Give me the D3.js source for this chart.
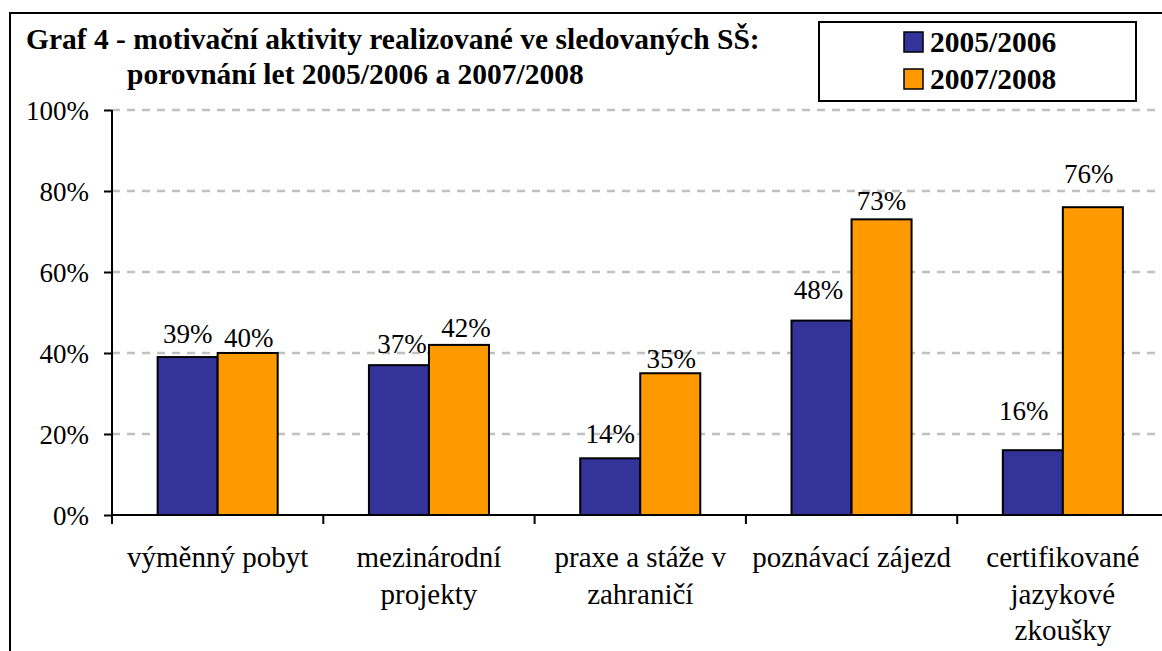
<!DOCTYPE html>
<html>
<head>
<meta charset="utf-8">
<script src="https://cdn.jsdelivr.net/npm/d3@7"></script>
<style>
    html, body { margin: 0; padding: 0; background: #fff; }
    svg { display: block; }
</style>
</head>
<body>
<div class="canvas"></div>
<script>
// Data
const categories = [
    ['výměnný pobyt'],
    ['mezinárodní', 'projekty'],
    ['praxe a stáže v', 'zahraničí'],
    ['poznávací zájezd'],
    ['certifikované', 'jazykové', 'zkoušky']
];
const seriesNames = ['2005/2006', '2007/2008'];
const values2005 = [39, 37, 14, 48, 16];
const values2007 = [40, 42, 35, 73, 76];
const yTicks = [0, 20, 40, 60, 80, 100];
const titleLines = [
    'Graf 4 - motivační aktivity realizované ve sledovaných SŠ:',
    'porovnání let 2005/2006 a 2007/2008'
];

// Label nudges [dx, dy] (labels were hand-moved in the original)
const labelNudge = [
    [[0, -8], [3, -6], [0, -9], [-3, -16], [-9, -24]],
    [[1, 0], [7, -2], [1, 1], [0, -3], [-4, -18]]
];

const colors = ['#333399', '#FF9900'];
const FONT = "'Liberation Serif', 'Times New Roman', Tinos, serif";

const dims = {
    width: 1162,
    height: 651,
    plotLeft: 112,
    plotRight: 1168.5,
    plotTop: 110,
    plotBottom: 515
};

const svg = d3.select('.canvas')
    .append('svg')
    .attr('width', dims.width)
    .attr('height', dims.height)
    .style('font-family', FONT);

// Chart frame
svg.append('rect')
    .attr('x', 10)
    .attr('y', 13)
    .attr('width', 1200)
    .attr('height', 700)
    .attr('fill', '#fff')
    .attr('stroke', '#000')
    .attr('stroke-width', 2);

// Scales
const x0 = d3.scaleBand()
    .domain(d3.range(categories.length))
    .range([dims.plotLeft, dims.plotRight])
    .padding(0);

const x1 = d3.scaleBand()
    .domain(seriesNames)
    .range([0, x0.bandwidth()])
    .paddingInner(0)
    .paddingOuter(0.76);

const y = d3.scaleLinear()
    .domain([0, 100])
    .range([dims.plotBottom, dims.plotTop]);

// Gridlines
svg.append('g')
    .selectAll('line')
    .data(yTicks.filter(d => d > 0))
    .enter()
    .append('line')
    .attr('x1', dims.plotLeft)
    .attr('x2', dims.plotRight)
    .attr('y1', d => y(d))
    .attr('y2', d => y(d))
    .attr('stroke', '#C0C0C0')
    .attr('stroke-width', 2.5)
    .attr('stroke-dasharray', '8,7');

// Bars
const series = [values2005, values2007];
series.forEach((vals, si) => {
    const g = svg.append('g');
    g.selectAll('rect')
        .data(vals)
        .enter()
        .append('rect')
        .attr('x', (d, i) => x0(i) + x1(seriesNames[si]))
        .attr('y', d => y(d))
        .attr('width', x1.bandwidth())
        .attr('height', d => y(0) - y(d))
        .attr('fill', colors[si])
        .attr('stroke', '#000')
        .attr('stroke-width', 2);

    g.selectAll('text')
        .data(vals)
        .enter()
        .append('text')
        .attr('x', (d, i) => x0(i) + x1(seriesNames[si]) + x1.bandwidth() / 2 + labelNudge[si][i][0])
        .attr('y', (d, i) => y(d) - 6 + labelNudge[si][i][1])
        .attr('text-anchor', 'middle')
        .attr('font-size', '27px')
        .text(d => d + '%');
});

// Y axis
const yAxis = svg.append('g')
    .attr('transform', `translate(${dims.plotLeft}, 0)`)
    .call(d3.axisLeft(y).tickValues(yTicks).tickSize(8).tickPadding(15).tickFormat(d => d + '%'));
yAxis.select('.domain').attr('stroke', '#000').attr('stroke-width', 2).attr('d', `M0,${dims.plotTop}V${dims.plotBottom}`);
yAxis.selectAll('.tick line').attr('stroke', '#000').attr('stroke-width', 2);
yAxis.selectAll('.tick text')
    .attr('font-size', '27px')
    .attr('fill', '#000')
    .attr('dy', '0.34em');

// X axis
const xAxis = svg.append('g')
    .attr('transform', `translate(0, ${dims.plotBottom})`);
xAxis.append('line')
    .attr('x1', dims.plotLeft)
    .attr('x2', dims.plotRight)
    .attr('stroke', '#000')
    .attr('stroke-width', 2);
xAxis.selectAll('.cat-tick')
    .data(d3.range(categories.length + 1))
    .enter()
    .append('line')
    .attr('class', 'cat-tick')
    .attr('x1', i => dims.plotLeft + i * x0.step())
    .attr('x2', i => dims.plotLeft + i * x0.step())
    .attr('y1', 0)
    .attr('y2', 9)
    .attr('stroke', '#000')
    .attr('stroke-width', 2);

const catLabels = xAxis.selectAll('.cat-label')
    .data(categories)
    .enter()
    .append('text')
    .attr('class', 'cat-label')
    .attr('text-anchor', 'middle')
    .attr('font-size', '29px')
    .attr('transform', (d, i) => `translate(${x0(i) + x0.bandwidth() / 2}, 52)`);
catLabels.selectAll('tspan')
    .data(d => d)
    .enter()
    .append('tspan')
    .attr('x', 0)
    .attr('y', (d, i) => i * 36.5)
    .text(d => d);

// Title
svg.append('text')
    .attr('x', 26)
    .attr('y', 49)
    .attr('font-size', '29.5px')
    .attr('font-weight', 'bold')
    .text(titleLines[0]);
svg.append('text')
    .attr('x', 127)
    .attr('y', 84)
    .attr('font-size', '29.5px')
    .attr('font-weight', 'bold')
    .text(titleLines[1]);

// Legend
const legend = svg.append('g');
legend.append('rect')
    .attr('x', 819)
    .attr('y', 22)
    .attr('width', 317)
    .attr('height', 79)
    .attr('fill', '#fff')
    .attr('stroke', '#000')
    .attr('stroke-width', 2);
const items = legend.selectAll('.item')
    .data(seriesNames)
    .enter()
    .append('g')
    .attr('class', 'item')
    .attr('transform', (d, i) => `translate(904, ${32 + i * 37})`);
items.append('rect')
    .attr('width', 19)
    .attr('height', 20)
    .attr('fill', (d, i) => colors[i])
    .attr('stroke', '#000')
    .attr('stroke-width', 1.5);
items.append('text')
    .attr('x', 26)
    .attr('y', 20)
    .attr('font-size', '29.5px')
    .attr('font-weight', 'bold')
    .text(d => d);

// Force serif everywhere (axis sets its own font-family)
svg.selectAll('text')
    .style('font-family', FONT)
    .style('fill', '#000');
</script>
</body>
</html>
